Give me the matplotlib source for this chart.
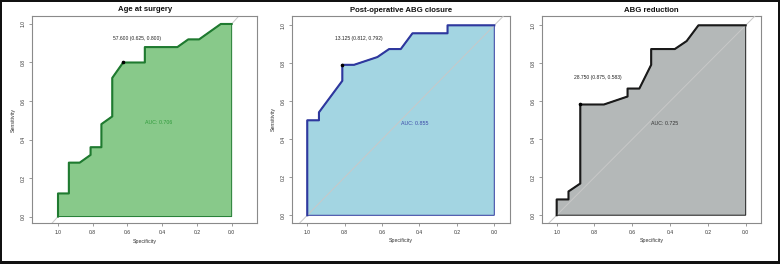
import matplotlib
matplotlib.use("Agg")
import matplotlib.pyplot as plt
from matplotlib.lines import Line2D
from matplotlib.patches import Rectangle

plt.rcParams['font.family'] = ['Liberation Sans', 'DejaVu Sans']

# ---------------- data ----------------
titles = ["Age at surgery", "Post-operative ABG closure", "ABG reduction"]

spec_age = [1.0, 1.0, 0.9375, 0.9375, 0.875, 0.8125, 0.8125, 0.75, 0.75, 0.6875, 0.6875,
            0.625, 0.5, 0.5, 0.3125, 0.25, 0.1875, 0.125, 0.0625, 0.0]
sens_age = [0.0, 0.12, 0.12, 0.28, 0.28, 0.32, 0.36, 0.36, 0.48, 0.52, 0.72,
            0.80, 0.80, 0.88, 0.88, 0.92, 0.92, 0.96, 1.0, 1.0]

spec_abg = [1.0, 1.0, 0.9375, 0.9375, 0.8125, 0.8125, 0.75, 0.625, 0.5625, 0.5, 0.4375,
            0.25, 0.25, 0.0]
sens_abg = [0.0, 0.5, 0.5, 0.542, 0.708, 0.792, 0.792, 0.833, 0.875, 0.875, 0.958,
            0.958, 1.0, 1.0]

spec_red = [1.0, 1.0, 0.9375, 0.9375, 0.875, 0.875, 0.75, 0.625, 0.625, 0.5625, 0.5, 0.5,
            0.375, 0.3125, 0.25, 0.0]
sens_red = [0.0, 0.083, 0.083, 0.125, 0.167, 0.583, 0.583, 0.625, 0.667, 0.667, 0.792, 0.875,
            0.875, 0.917, 1.0, 1.0]

best_thresholds = [57.600, 13.125, 28.750]
best_spec = [0.625, 0.812, 0.875]
best_sens = [0.800, 0.792, 0.583]
aucs = [0.706, 0.855, 0.725]

x_ticks = [1.0, 0.8, 0.6, 0.4, 0.2, 0.0]
y_ticks = [0.0, 0.2, 0.4, 0.6, 0.8, 1.0]

# ---------------- layout / style ----------------
W, H = 780, 264
fig = plt.figure(figsize=(W / 100, H / 100), dpi=100)

panels = [
    dict(spec=spec_age, sens=sens_age,
         box=(32.3, 257.0, 15.7, 223.3), xlim=(1.148, -0.146), ylim=(-0.035, 1.043),
         fill="#88c98a", line="#1f7a30", auc_col="#2e9a3a", diag_on_top=False,
         best_xy=(0.547, 0.926), auc_xy=(0.5, 0.486), ylabel=True),
    dict(spec=spec_abg, sens=sens_abg,
         box=(292.3, 510.0, 16.0, 222.7), xlim=(1.080, -0.084), ylim=(-0.039, 1.049),
         fill="#a3d5e2", line="#2e389e", auc_col="#3a48a6", diag_on_top=True,
         best_xy=(0.722, 0.932), auc_xy=(0.5, 0.484), ylabel=True),
    dict(spec=spec_red, sens=sens_red,
         box=(542.3, 761.0, 16.0, 223.0), xlim=(1.076, -0.081), ylim=(-0.041, 1.049),
         fill="#b4b8b8", line="#1a1a1a", auc_col="#333333", diag_on_top=True,
         best_xy=(0.783, 0.724), auc_xy=(0.5, 0.484), ylabel=False),
]

small = 3.6
for i, p in enumerate(panels):
    l, r, t, b = p["box"]
    ax = fig.add_axes([l / W, (H - b) / H, (r - l) / W, (b - t) / H])
    ax.set_xlim(*p["xlim"])
    ax.set_ylim(*p["ylim"])
    for s in ax.spines.values():
        s.set_color("#8a8a8a")
        s.set_linewidth(0.8)

    # diagonal reference
    ax.plot([1.3, -0.3], [-0.3, 1.3], color="#c8c8c8", lw=0.7,
            zorder=4 if p["diag_on_top"] else 1)

    sp, se = p["spec"], p["sens"]
    # filled AUC polygon
    ax.fill(list(sp) + [0.0, 1.0], list(se) + [0.0, 0.0], facecolor=p["fill"],
            edgecolor=p["line"], lw=0.7, zorder=2)
    # curve
    ax.plot(sp, se, color=p["line"], lw=1.5, zorder=5, solid_joinstyle="round")
    # best threshold
    ax.plot([best_spec[i]], [best_sens[i]], marker="o", ms=1.6, color="black", zorder=6)
    ax.text(p["best_xy"][0], p["best_xy"][1],
            f"{best_thresholds[i]:.3f} ({best_spec[i]:.3f}, {best_sens[i]:.3f})",
            ha="center", va="center", fontsize=small, color="#222222", zorder=7)
    ax.text(p["auc_xy"][0], p["auc_xy"][1], f"AUC: {aucs[i]:.3f}",
            ha="left", va="center", fontsize=small + 0.2, color=p["auc_col"], zorder=7)

    ax.set_xticks(x_ticks)
    ax.set_xticklabels([f"{v:.1f}" for v in x_ticks])
    ax.set_yticks(y_ticks)
    ax.set_yticklabels([f"{v:.1f}" for v in y_ticks], rotation=90, va="center")
    ax.tick_params(axis="both", labelsize=small, colors="#8a8a8a", labelcolor="#333333",
                   length=2.5, width=0.6, pad=2.5)
    ax.set_xlabel("Specificity", fontsize=small + 0.2, color="#333333", labelpad=2.5)
    if p["ylabel"]:
        ax.set_ylabel("Sensitivity", fontsize=small + 0.2, color="#333333", labelpad=3)
    ax.set_title(titles[i], fontsize=5.6, fontweight="bold", color="#111111", pad=3.2)

# outer black frame
def frect(x0, y0, w, h, c):
    fig.patches.append(Rectangle((x0 / W, (H - y0 - h) / H), w / W, h / H,
                                 transform=fig.transFigure, facecolor=c,
                                 edgecolor="none", zorder=10))

frect(0, 0, W, 1.5, "#111111")
frect(0, 0, 1.5, H, "#111111")
frect(W - 2, 0, 2, H, "#111111")
frect(0, H - 3.5, W, 3.5, "#111111")

fig.savefig("out.png", dpi=100)
